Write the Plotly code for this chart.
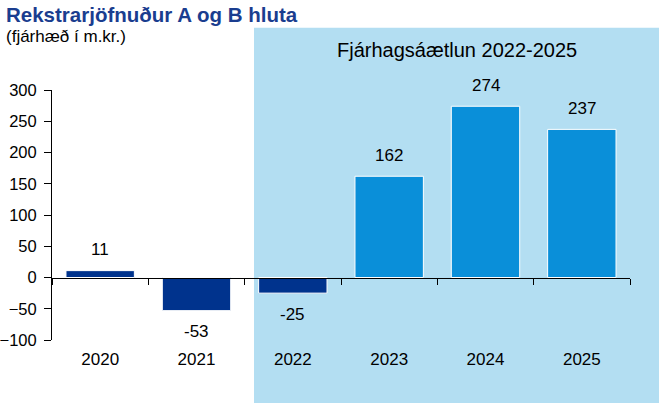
import plotly.graph_objects as go

years = ["2020", "2021", "2022", "2023", "2024", "2025"]
values = [11, -53, -25, 162, 274, 237]
bar_colors = ["#00338D", "#00338D", "#00338D", "#0A8FD9", "#0A8FD9", "#0A8FD9"]
ytick_vals = [-100, -50, 0, 50, 100, 150, 200, 250, 300]

title_text = "Rekstrarjöfnuður A og B hluta"
subtitle_text = "(fjárhæð í m.kr.)"
band_text = "Fjárhagsáætlun 2022-2025"

FONT = "Liberation Sans, Arial, sans-serif"

fig = go.Figure()
fig.add_trace(go.Bar(
    x=years, y=values,
    marker=dict(color=bar_colors, line=dict(color="white", width=1)),
    width=0.71,
    hoverinfo="skip",
))

# value labels (category index positions on the category axis)
for i, v in enumerate(values):
    fig.add_annotation(
        x=i, y=v, text=str(v), showarrow=False,
        yshift=21 if v >= 0 else -21, yanchor="middle",
        font=dict(family=FONT, size=17, color="black"),
    )

# shaded forecast band
fig.add_shape(type="rect", xref="paper", yref="paper",
              x0=0.3495, x1=1.0502, y0=-0.2515, y1=1.2495,
              fillcolor="#B3DEF2", line=dict(width=0), layer="below")

fig.add_annotation(xref="paper", yref="paper", x=-0.0831, y=1.3014,
                   xanchor="left", yanchor="middle", showarrow=False,
                   text="<b>" + title_text + "</b>",
                   font=dict(family=FONT, size=20.5, color="#1A3D8F"))
fig.add_annotation(xref="paper", yref="paper", x=-0.0831, y=1.2136,
                   xanchor="left", yanchor="middle", showarrow=False,
                   text=subtitle_text,
                   font=dict(family=FONT, size=17, color="black"))
fig.add_annotation(xref="paper", yref="paper", x=0.7007, y=1.1617,
                   xanchor="center", yanchor="middle", showarrow=False,
                   text=band_text,
                   font=dict(family=FONT, size=20, color="black"))

fig.update_layout(
    width=665, height=410,
    margin=dict(l=52, r=35, t=89.5, b=70),
    paper_bgcolor="white",
    plot_bgcolor="rgba(0,0,0,0)",
    showlegend=False,
    font=dict(family=FONT, size=17, color="black"),
    xaxis=dict(
        type="category", categoryorder="array", categoryarray=years,
        range=[-0.5, 5.5], automargin=False,
        anchor="free", position=0.25,
        showline=True, linecolor="black", linewidth=1,
        ticks="outside", tickson="boundaries", ticklen=6, tickcolor="black",
        ticklabelstandoff=66, tickangle=0,
        showgrid=False, zeroline=False,
        tickfont=dict(family=FONT, size=17, color="black"),
        fixedrange=True,
    ),
    yaxis=dict(
        range=[-100, 300], tickvals=ytick_vals, automargin=False,
        showline=True, linecolor="black", linewidth=1,
        ticks="outside", ticklen=7, tickcolor="black",
        ticklabelstandoff=4,
        showgrid=False, zeroline=False,
        tickfont=dict(family=FONT, size=16.5, color="black"),
        fixedrange=True,
    ),
)

fig.write_html("out.html",
               config={"displayModeBar": False, "staticPlot": True},
               post_script="document.body.style.margin='0';document.body.style.overflow='hidden';")
